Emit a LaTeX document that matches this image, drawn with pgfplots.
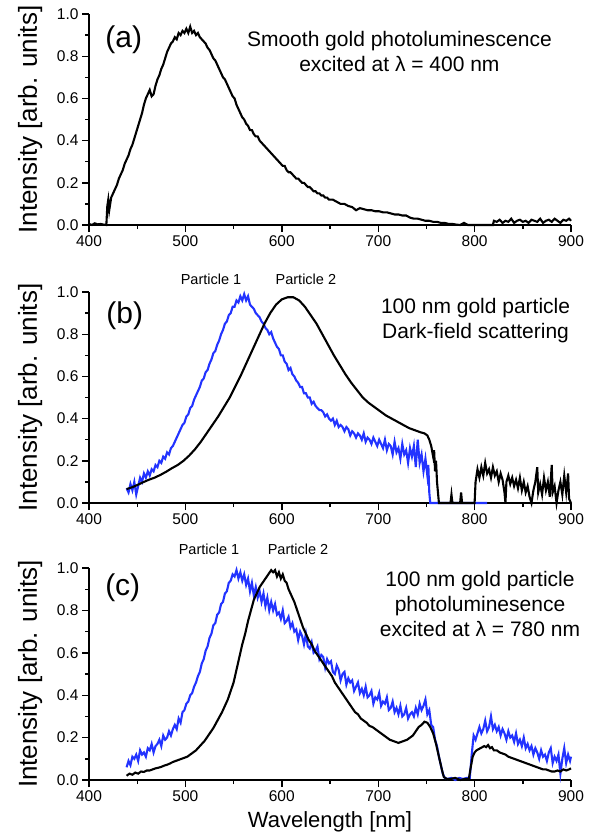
\documentclass[border=0pt]{standalone}
\usepackage{fontspec}
\setmainfont{Liberation Sans}
\usepackage{pgfplots}
\pgfplotsset{compat=1.18}
\definecolor{pblue}{HTML}{2233FF}
\pgfplotsset{
  panel/.style={
    scale only axis,
    width=482bp, height=211bp,
    xmin=400, xmax=900, ymin=0, ymax=1,
    axis x line=bottom, axis y line=left,
    axis line style={line width=1.6bp, -},
    xtick={400,500,600,700,800,900},
    minor xtick={450,550,650,750,850},
    ytick={0,0.2,0.4,0.6,0.8,1.0},
    minor ytick={0.1,0.3,0.5,0.7,0.9},
    tick align=outside,
    major tick length=7bp, minor tick length=4bp,
    every tick/.style={line width=1.4bp, black},
    /pgf/number format/assume math mode=true,
    yticklabel style={/pgf/number format/.cd, fixed, fixed zerofill, precision=1},
    xticklabel style={/pgf/number format/.cd, fixed},
    ticklabel style={font=\fontsize{15.5bp}{18bp}\selectfont},
    ylabel={Intensity [arb. units]},
    ylabel style={font=\fontsize{26bp}{30bp}\selectfont, at={(axis description cs:-0.122,0.5)}, anchor=center, rotate=0},
    clip=false,
  },
}
\tikzset{
  ann/.style={font=\fontsize{21bp}{25bp}\selectfont, align=center},
  plab/.style={font=\fontsize{14.5bp}{17bp}\selectfont},
  big/.style={font=\fontsize{30bp}{34bp}\selectfont},
}
\begin{document}
\begin{tikzpicture}
\path[use as bounding box] (0,0) rectangle (591bp,-835bp);

% ---------------- (a)
\begin{axis}[panel, at={(89bp,-14bp)}, anchor=north west]
\addplot[black, line width=2.1bp] coordinates {
(400,0.005)(403,0.0)(406,0.008)(409,0.003)(412,0.005)(415,0.002)(418,0.0)(419,0.09)(420,0.12)(421,0.07)(423,0.13)(425,0.15)(427,0.17)(429,0.19)(431,0.22)(433,0.24)(435,0.26)(437,0.29)(439,0.31)(441,0.33)(443,0.36)(445,0.38)(447,0.41)(449,0.44)(451,0.47)(453,0.50)(455,0.53)(457,0.57)(459,0.60)(461,0.62)(463,0.64)(465,0.61)(467,0.62)(469,0.66)(471,0.69)(473,0.71)(475,0.74)(477,0.76)(479,0.79)(481,0.82)(483,0.84)(485,0.86)(487,0.87)(489,0.89)(491,0.88)(493,0.91)(495,0.90)(497,0.92)(499,0.91)(501,0.93)(503,0.91)(505,0.94)(507,0.91)(509,0.92)(511,0.90)(513,0.91)(515,0.89)(517,0.88)(519,0.87)(521,0.86)(523,0.84)(525,0.83)(527,0.81)(529,0.79)(531,0.78)(533,0.76)(535,0.74)(537,0.72)(539,0.70)(541,0.69)(543,0.67)(545,0.65)(547,0.63)(549,0.61)(551,0.60)(553,0.57)(555,0.55)(557,0.53)(559,0.51)(561,0.50)(563,0.48)(565,0.47)(567,0.45)(569,0.45)(571,0.43)(573,0.42)(575,0.42)(577,0.40)(579,0.39)(581,0.38)(583,0.37)(585,0.36)(587,0.35)(589,0.34)(591,0.33)(593,0.32)(595,0.31)(597,0.30)(599,0.29)(601,0.28)(603,0.28)(605,0.26)(607,0.25)(609,0.25)(611,0.24)(613,0.23)(615,0.22)(617,0.22)(619,0.21)(621,0.20)(623,0.20)(625,0.19)(627,0.18)(629,0.18)(631,0.17)(633,0.16)(635,0.16)(637,0.15)(639,0.15)(641,0.14)(643,0.14)(645,0.13)(647,0.13)(649,0.12)(653,0.12)(657,0.11)(661,0.10)(665,0.10)(669,0.09)(673,0.085)(677,0.07)(681,0.08)(685,0.075)(689,0.07)(693,0.07)(697,0.065)(701,0.065)(705,0.06)(709,0.06)(713,0.055)(717,0.05)(721,0.05)(725,0.045)(729,0.045)(733,0.035)(737,0.03)(741,0.03)(745,0.025)(749,0.02)(753,0.02)(757,0.015)(761,0.015)(765,0.01)(769,0.01)(773,0.005)(777,0.005)(781,0.002)(785,0.0)(789,0.01)(793,0.0)(797,0.0)(801,0.0)(805,0.0)(810,0.0)(815,0.0)(819,0.0)(820,0.02)(823,0.015)(826,0.025)(829,0.01)(832,0.02)(835,0.015)(838,0.03)(841,0.01)(844,0.02)(847,0.025)(850,0.015)(853,0.02)(856,0.01)(859,0.025)(862,0.02)(865,0.015)(868,0.03)(871,0.01)(874,0.02)(877,0.025)(880,0.015)(883,0.03)(886,0.02)(889,0.01)(892,0.025)(895,0.02)(898,0.03)(900,0.02)
};
\node[big] at (axis cs:436,0.88) {(a)};
\node[ann] at (axis cs:722,0.82) {Smooth gold photoluminescence\\excited at λ = 400 nm};
\end{axis}

% ---------------- (b)
\begin{axis}[panel, at={(89bp,-292bp)}, anchor=north west]
\addplot[pblue, line width=2.1bp] coordinates {
(439,0.07)(441,0.05)(443,0.09)(445,0.06)(447,0.1)(449,0.04)(451,0.08)(453,0.12)(455,0.1)(457,0.14)(459,0.12)(461,0.15)(463,0.13)(465,0.16)(467,0.15)(469,0.18)(471,0.17)(473,0.2)(475,0.19)(477,0.22)(479,0.21)(481,0.24)(483,0.23)(485,0.26)(487,0.27)(489,0.29)(491,0.31)(493,0.33)(495,0.35)(497,0.37)(499,0.38)(501,0.41)(503,0.42)(505,0.45)(507,0.46)(509,0.49)(511,0.51)(513,0.53)(515,0.55)(517,0.58)(519,0.59)(521,0.62)(523,0.63)(525,0.66)(527,0.68)(529,0.71)(531,0.72)(533,0.75)(535,0.77)(537,0.80)(539,0.82)(541,0.85)(543,0.86)(545,0.89)(547,0.90)(549,0.93)(551,0.93)(553,0.96)(555,0.95)(557,0.98)(559,0.96)(561,0.99)(563,0.96)(565,0.98)(567,0.94)(569,0.93)(571,0.92)(573,0.90)(575,0.89)(577,0.88)(579,0.86)(581,0.85)(583,0.83)(585,0.82)(587,0.80)(589,0.81)(591,0.78)(593,0.76)(595,0.74)(597,0.73)(599,0.70)(601,0.70)(603,0.67)(605,0.66)(607,0.63)(609,0.64)(611,0.61)(613,0.60)(615,0.58)(617,0.57)(619,0.55)(621,0.55)(623,0.52)(625,0.52)(627,0.50)(629,0.50)(631,0.47)(633,0.48)(635,0.46)(637,0.45)(639,0.44)(641,0.44)(643,0.43)(645,0.41)(647,0.42)(649,0.40)(651,0.39)(653,0.40)(655,0.37)(657,0.39)(659,0.36)(661,0.37)(663,0.36)(665,0.34)(667,0.36)(669,0.35)(671,0.32)(673,0.34)(675,0.33)(677,0.31)(679,0.33)(681,0.32)(683,0.30)(685,0.33)(687,0.29)(689,0.31)(691,0.30)(693,0.28)(695,0.31)(697,0.29)(699,0.27)(701,0.30)(703,0.28)(705,0.26)(707,0.30)(709,0.25)(711,0.28)(713,0.27)(715,0.23)(717,0.29)(719,0.24)(721,0.26)(723,0.21)(725,0.28)(727,0.23)(729,0.25)(731,0.19)(733,0.26)(735,0.22)(737,0.27)(739,0.17)(741,0.30)(743,0.19)(745,0.23)(747,0.15)(749,0.21)(751,0.13)(752,0.18)(753,0.05)(754,0.0)(760,0.0)(780,0.0)(800,0.0)(813,0.0)
};
\addplot[black, line width=2.1bp] coordinates {
(439,0.066)(445,0.075)(450,0.085)(456,0.098)(462,0.11)(468,0.12)(474,0.133)(480,0.148)(486,0.165)(492,0.18)(498,0.20)(504,0.225)(510,0.255)(516,0.29)(522,0.33)(528,0.37)(534,0.41)(540,0.455)(546,0.50)(552,0.555)(558,0.61)(564,0.67)(570,0.73)(576,0.79)(582,0.85)(588,0.90)(594,0.94)(600,0.965)(606,0.975)(612,0.975)(618,0.96)(624,0.93)(630,0.89)(636,0.85)(642,0.80)(648,0.75)(654,0.70)(660,0.655)(666,0.61)(672,0.57)(678,0.535)(684,0.50)(690,0.475)(696,0.455)(702,0.435)(708,0.415)(714,0.40)(720,0.385)(726,0.37)(732,0.355)(738,0.345)(744,0.335)(748,0.33)(751,0.32)(753,0.30)(755,0.27)(757,0.22)(758,0.25)(759,0.15)(760,0.2)(761,0.1)(762,0.05)(763,0.0)(770,0.0)(775,0.0)(776,0.04)(777,0.0)(785,0.0)(786,0.05)(787,0.0)(800,0.0)(801,0.1)(803,0.16)(805,0.12)(807,0.17)(809,0.13)(811,0.19)(813,0.14)(815,0.16)(817,0.12)(819,0.17)(821,0.13)(823,0.15)(825,0.1)(827,0.14)(829,0.11)(831,0.05)(832,0.0)(833,0.1)(835,0.13)(837,0.09)(839,0.12)(841,0.08)(843,0.11)(845,0.07)(847,0.12)(849,0.06)(851,0.1)(853,0.05)(855,0.08)(857,0.03)(859,0.0)(861,0.06)(863,0.1)(865,0.17)(866,0.05)(868,0.09)(870,0.04)(872,0.12)(874,0.06)(876,0.1)(878,0.03)(880,0.18)(881,0.05)(883,0.08)(885,0.0)(887,0.06)(889,0.1)(891,0.04)(893,0.13)(895,0.05)(897,0.14)(898,0.02)(900,0.0)
};
\node[big] at (axis cs:437,0.886) {(b)};
\node[ann] at (axis cs:801,0.865) {100 nm gold particle\\Dark-field scattering};
\node[plab] at (axis cs:526.6,1.06) {Particle 1};
\node[plab] at (axis cs:625,1.06) {Particle 2};
\end{axis}

% ---------------- (c)
\begin{axis}[panel, at={(89bp,-568bp)}, anchor=north west, height=212bp,
  xlabel={Wavelength [nm]},
  xlabel style={font=\fontsize{22bp}{26bp}\selectfont, at={(axis description cs:0.5,-0.198)}, anchor=center}]
\addplot[pblue, line width=2.1bp] coordinates {
(439,0.06)(441,0.09)(443,0.07)(445,0.11)(447,0.10)(449,0.12)(451,0.09)(453,0.14)(455,0.12)(457,0.13)(459,0.11)(461,0.15)(463,0.14)(465,0.17)(467,0.13)(469,0.16)(471,0.17)(473,0.19)(475,0.16)(477,0.21)(479,0.19)(481,0.20)(483,0.23)(485,0.21)(487,0.24)(489,0.26)(491,0.24)(493,0.29)(495,0.27)(497,0.32)(499,0.33)(501,0.36)(503,0.37)(505,0.40)(507,0.41)(509,0.44)(511,0.46)(513,0.49)(515,0.51)(517,0.55)(519,0.57)(521,0.61)(523,0.63)(525,0.67)(527,0.69)(529,0.73)(531,0.74)(533,0.78)(535,0.79)(537,0.83)(539,0.84)(541,0.88)(543,0.89)(545,0.93)(547,0.94)(549,0.97)(551,0.96)(553,0.99)(555,0.95)(557,0.98)(559,0.94)(561,0.97)(563,0.92)(565,0.95)(567,0.89)(569,0.93)(571,0.87)(573,0.91)(575,0.86)(577,0.89)(579,0.84)(581,0.88)(583,0.82)(585,0.86)(587,0.80)(589,0.84)(591,0.80)(593,0.83)(595,0.78)(597,0.79)(599,0.76)(601,0.80)(603,0.74)(605,0.75)(607,0.77)(609,0.72)(611,0.74)(613,0.70)(615,0.71)(617,0.66)(619,0.70)(621,0.68)(623,0.64)(625,0.69)(627,0.63)(629,0.62)(631,0.65)(633,0.60)(635,0.61)(637,0.63)(639,0.57)(641,0.59)(643,0.58)(645,0.53)(647,0.57)(649,0.55)(651,0.56)(653,0.51)(655,0.50)(657,0.54)(659,0.52)(661,0.47)(663,0.50)(665,0.51)(667,0.45)(669,0.48)(671,0.46)(673,0.47)(675,0.42)(677,0.44)(679,0.46)(681,0.41)(683,0.43)(685,0.40)(687,0.44)(689,0.39)(691,0.40)(693,0.42)(695,0.36)(697,0.39)(699,0.38)(701,0.41)(703,0.35)(705,0.37)(707,0.36)(709,0.39)(711,0.33)(713,0.34)(715,0.37)(717,0.32)(719,0.34)(721,0.31)(723,0.35)(725,0.30)(727,0.31)(729,0.34)(731,0.29)(733,0.31)(735,0.32)(737,0.30)(739,0.34)(741,0.31)(743,0.36)(745,0.33)(747,0.35)(749,0.38)(751,0.31)(753,0.33)(755,0.26)(757,0.25)(759,0.19)(761,0.16)(763,0.11)(765,0.07)(767,0.03)(769,0.01)(772,0.005)(776,0.01)(780,0.0)(784,0.01)(788,0.005)(792,0.01)(795,0.01)(797,0.12)(799,0.21)(801,0.19)(803,0.22)(805,0.25)(807,0.22)(809,0.24)(811,0.28)(813,0.23)(815,0.25)(817,0.30)(819,0.24)(821,0.26)(823,0.23)(825,0.25)(827,0.21)(829,0.24)(831,0.22)(833,0.19)(835,0.23)(837,0.20)(839,0.21)(841,0.18)(843,0.22)(845,0.17)(847,0.19)(849,0.16)(851,0.20)(853,0.15)(855,0.17)(857,0.14)(859,0.16)(861,0.12)(863,0.15)(865,0.13)(867,0.10)(869,0.14)(871,0.11)(873,0.12)(875,0.09)(877,0.13)(879,0.15)(881,0.08)(883,0.11)(885,0.09)(887,0.12)(889,0.03)(891,0.10)(893,0.15)(895,0.08)(897,0.12)(899,0.09)(900,0.11)
};
\addplot[black, line width=2.1bp] coordinates {
(439,0.02)(442,0.03)(445,0.025)(448,0.035)(451,0.03)(454,0.04)(457,0.038)(460,0.045)(463,0.045)(466,0.05)(469,0.055)(472,0.058)(475,0.062)(478,0.068)(481,0.072)(484,0.078)(487,0.085)(490,0.09)(493,0.095)(496,0.10)(499,0.105)(502,0.11)(505,0.12)(508,0.13)(511,0.14)(514,0.155)(517,0.17)(520,0.185)(523,0.205)(526,0.225)(529,0.245)(532,0.27)(535,0.295)(538,0.32)(541,0.35)(544,0.38)(547,0.42)(550,0.46)(553,0.52)(556,0.58)(559,0.64)(562,0.69)(565,0.75)(568,0.80)(571,0.85)(574,0.88)(577,0.91)(580,0.93)(583,0.95)(586,0.97)(589,0.99)(591,0.98)(593,0.99)(595,0.96)(597,0.98)(599,0.95)(601,0.97)(603,0.94)(605,0.93)(607,0.90)(609,0.88)(611,0.86)(613,0.84)(616,0.80)(619,0.76)(622,0.72)(625,0.69)(628,0.66)(631,0.64)(634,0.61)(637,0.59)(640,0.57)(643,0.55)(646,0.53)(649,0.51)(652,0.49)(655,0.46)(658,0.44)(661,0.42)(664,0.40)(667,0.38)(670,0.36)(673,0.34)(676,0.32)(679,0.31)(682,0.29)(685,0.28)(688,0.27)(691,0.255)(694,0.25)(697,0.24)(700,0.23)(703,0.22)(706,0.21)(709,0.20)(712,0.19)(715,0.185)(718,0.18)(721,0.175)(724,0.18)(727,0.185)(730,0.19)(733,0.20)(736,0.21)(739,0.23)(742,0.25)(745,0.26)(748,0.275)(751,0.27)(754,0.25)(757,0.22)(760,0.17)(763,0.11)(766,0.05)(768,0.015)(771,0.005)(775,0.005)(780,0.01)(785,0.0)(790,0.005)(794,0.005)(796,0.06)(798,0.11)(800,0.13)(802,0.14)(804,0.145)(806,0.15)(808,0.155)(810,0.16)(812,0.155)(814,0.165)(816,0.15)(818,0.155)(820,0.14)(823,0.14)(826,0.13)(829,0.125)(832,0.12)(835,0.11)(838,0.105)(841,0.10)(844,0.095)(847,0.09)(850,0.085)(853,0.08)(856,0.075)(859,0.07)(862,0.065)(865,0.06)(868,0.055)(871,0.05)(874,0.05)(877,0.045)(880,0.04)(883,0.04)(886,0.045)(889,0.04)(892,0.05)(895,0.045)(898,0.05)(900,0.055)
};
\node[big] at (axis cs:435,0.905) {(c)};
\node[ann] at (axis cs:805.6,0.83) {100 nm gold particle\\photoluminesence\\excited at λ = 780 nm};
\node[plab] at (axis cs:524.5,1.09) {Particle 1};
\node[plab] at (axis cs:616.8,1.09) {Particle 2};
\end{axis}
\end{tikzpicture}
\end{document}
